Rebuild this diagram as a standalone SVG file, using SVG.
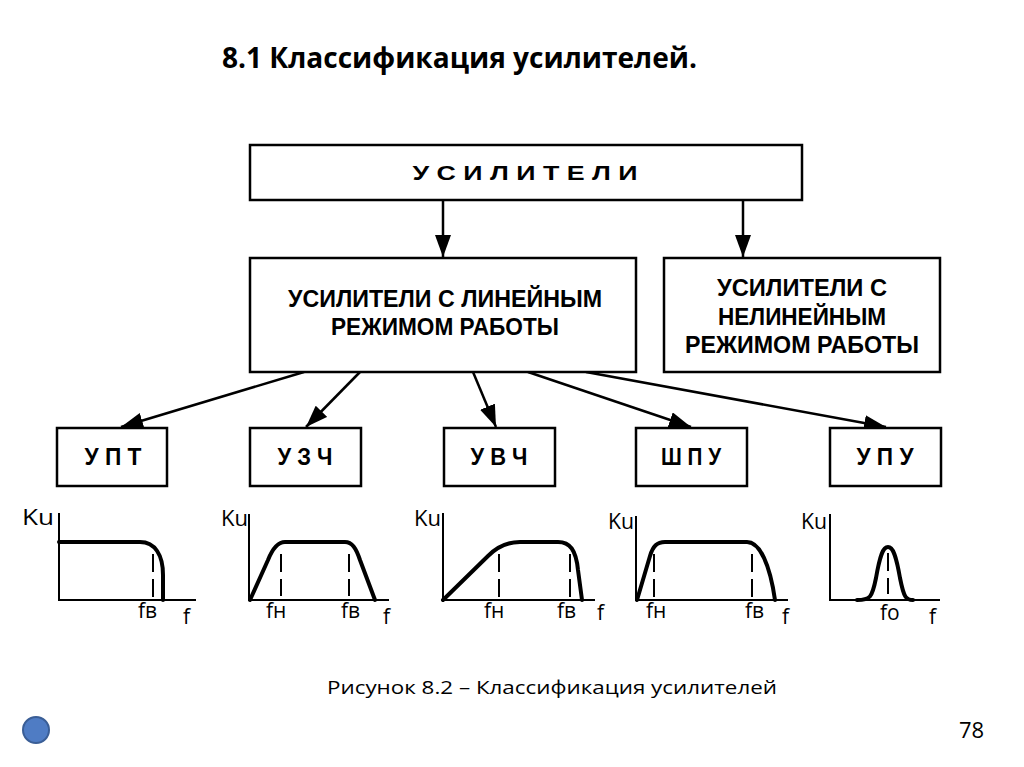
<svg xmlns="http://www.w3.org/2000/svg" width="1024" height="767" viewBox="0 0 1024 767">
<defs>
<style>
.box{fill:#fff;stroke:#000;stroke-width:2.5}
.bt{font-family:"Liberation Sans",Arial,sans-serif;font-weight:bold;fill:#000;text-anchor:middle}
.conn{stroke:#000;stroke-width:2.5;fill:none}
.axis{stroke:#000;stroke-width:2;fill:none}
.curve{stroke:#000;stroke-width:4;fill:none;stroke-linejoin:round;stroke-linecap:round}
.dash{stroke:#000;stroke-width:2;stroke-dasharray:18,7}
.lbl{font-family:"Open Sans","Liberation Sans",sans-serif;font-size:21px;fill:#000}
.ku{font-family:"Open Sans","Liberation Sans",sans-serif;font-size:22px;fill:#000}
.cal{font-family:"Open Sans","Liberation Sans",sans-serif;fill:#000}
</style>
<marker id="ah" markerUnits="userSpaceOnUse" markerWidth="24" markerHeight="16" refX="22" refY="8" orient="auto">
<path d="M0,0 L22,8 L0,16 Z" fill="#000"/>
</marker>
</defs>
<rect width="1024" height="767" fill="#fff"/>
<text class="cal" x="222" y="68" font-size="28" font-weight="bold" textLength="475" lengthAdjust="spacingAndGlyphs">8.1 Классификация усилителей.</text>

<g id="connectors">
<line class="conn" x1="443" y1="200" x2="443" y2="257" marker-end="url(#ah)"/>
<line class="conn" x1="743" y1="200" x2="743" y2="257" marker-end="url(#ah)"/>
<line class="conn" x1="304" y1="372" x2="121" y2="427" marker-end="url(#ah)"/>
<line class="conn" x1="360" y1="372" x2="306" y2="427" marker-end="url(#ah)"/>
<line class="conn" x1="473" y1="372" x2="496" y2="427" marker-end="url(#ah)"/>
<line class="conn" x1="528" y1="372" x2="691" y2="427" marker-end="url(#ah)"/>
<line class="conn" x1="586" y1="372" x2="886" y2="427" marker-end="url(#ah)"/>
</g>

<g id="n-amplifiers">
<rect class="box" x="250" y="145" width="552" height="55"/>
<text class="bt" x="525" y="180" font-size="20" textLength="225" lengthAdjust="spacingAndGlyphs">У С И Л И Т Е Л И</text>
</g>
<g id="n-linear">
<rect class="box" x="250" y="258" width="386" height="114"/>
<text class="bt" x="445" y="307" font-size="23" textLength="314" lengthAdjust="spacingAndGlyphs">УСИЛИТЕЛИ С ЛИНЕЙНЫМ</text>
<text class="bt" x="445" y="335" font-size="23" textLength="228" lengthAdjust="spacingAndGlyphs">РЕЖИМОМ РАБОТЫ</text>
</g>
<g id="n-nonlinear">
<rect class="box" x="664" y="258" width="276" height="114"/>
<text class="bt" x="802" y="296" font-size="23" textLength="170" lengthAdjust="spacingAndGlyphs">УСИЛИТЕЛИ С</text>
<text class="bt" x="802" y="325" font-size="23" textLength="168" lengthAdjust="spacingAndGlyphs">НЕЛИНЕЙНЫМ</text>
<text class="bt" x="802" y="353" font-size="23" textLength="234" lengthAdjust="spacingAndGlyphs">РЕЖИМОМ РАБОТЫ</text>
</g>
<g id="n-upt">
<rect class="box" x="57" y="428" width="110" height="58"/>
<text class="bt" x="113" y="465" font-size="24" textLength="57" lengthAdjust="spacingAndGlyphs">У П Т</text>
</g>
<g id="n-uzch">
<rect class="box" x="250" y="428" width="111" height="58"/>
<text class="bt" x="305" y="465" font-size="24" textLength="55" lengthAdjust="spacingAndGlyphs">У З Ч</text>
</g>
<g id="n-uvch">
<rect class="box" x="444" y="428" width="111" height="58"/>
<text class="bt" x="499" y="465" font-size="24" textLength="57" lengthAdjust="spacingAndGlyphs">У В Ч</text>
</g>
<g id="n-shpu">
<rect class="box" x="636" y="428" width="111" height="58"/>
<text class="bt" x="691" y="465" font-size="24" textLength="60" lengthAdjust="spacingAndGlyphs">Ш П У</text>
</g>
<g id="n-upu">
<rect class="box" x="830" y="428" width="111" height="58"/>
<text class="bt" x="885" y="465" font-size="24" textLength="57" lengthAdjust="spacingAndGlyphs">У П У</text>
</g>

<g id="chart-upt">
<path class="axis" d="M59,513 V600 H196"/>
<path class="curve" d="M59,542 H140 C155,542 163,555 163,575 V600"/>
<line class="dash" x1="153" y1="554" x2="153" y2="600"/>
<text class="ku" x="22" y="525" textLength="32" lengthAdjust="spacingAndGlyphs">Ku</text>
<text class="lbl" x="138" y="618">fв</text>
<text class="lbl" x="183" y="624">f</text>
</g>
<g id="chart-uzch">
<path class="axis" d="M249,514 V600 H389"/>
<path class="curve" d="M250,600 L268,560 C272,550 277,542 285,542 H345 C352,542 356,548 360,560 L375,600"/>
<line class="dash" x1="281" y1="554" x2="281" y2="596"/>
<line class="dash" x1="349" y1="554" x2="349" y2="596"/>
<text class="ku" x="221" y="526" textLength="27" lengthAdjust="spacingAndGlyphs">Ku</text>
<text class="lbl" x="266" y="618">fн</text>
<text class="lbl" x="341" y="618">fв</text>
<text class="lbl" x="383" y="624">f</text>
</g>
<g id="chart-uvch">
<path class="axis" d="M443,513 V600 H595"/>
<path class="curve" d="M443,600 L488,556 C498,546 508,542 520,542 H558 C570,542 576,550 578,570 L582,600"/>
<line class="dash" x1="499" y1="554" x2="499" y2="600"/>
<line class="dash" x1="570" y1="554" x2="570" y2="600"/>
<text class="ku" x="414" y="526" textLength="27" lengthAdjust="spacingAndGlyphs">Ku</text>
<text class="lbl" x="484" y="618">fн</text>
<text class="lbl" x="557" y="618">fв</text>
<text class="lbl" x="597" y="620">f</text>
</g>
<g id="chart-shpu">
<path class="axis" d="M636,516 V600 H788"/>
<path class="curve" d="M637,600 L650,556 C653,546 657,542 665,542 H747 C760,542 770,565 775,600"/>
<line class="dash" x1="654" y1="554" x2="654" y2="600"/>
<line class="dash" x1="752" y1="554" x2="752" y2="600"/>
<text class="ku" x="608" y="529" textLength="26" lengthAdjust="spacingAndGlyphs">Ku</text>
<text class="lbl" x="646" y="618">fн</text>
<text class="lbl" x="745" y="618">fв</text>
<text class="lbl" x="782" y="624">f</text>
</g>
<g id="chart-upu">
<path class="axis" d="M830,514 V600 H940"/>
<path class="curve" d="M857,600 C870,600 872,598 876,578 C880,555 883,547 888,547 C893,547 896,555 900,578 C904,598 906,600 913,600"/>
<line class="dash" x1="888" y1="553" x2="888" y2="594"/>
<text class="ku" x="801" y="529" textLength="26" lengthAdjust="spacingAndGlyphs">Ku</text>
<text class="lbl" x="880" y="620">fo</text>
<text class="lbl" x="929" y="624">f</text>
</g>

<text class="cal" x="327" y="694" font-size="19" textLength="450" lengthAdjust="spacingAndGlyphs">Рисунок 8.2 – Классификация усилителей</text>
<text class="cal" x="959" y="738" font-size="22">78</text>
<circle cx="36" cy="730" r="13" fill="#4f7cc4" stroke="#3a5e96" stroke-width="2"/>
</svg>
